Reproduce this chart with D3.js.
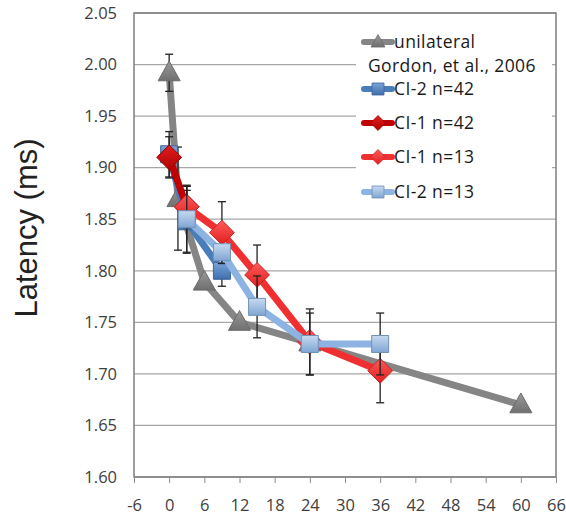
<!DOCTYPE html>
<html>
<head>
<meta charset="utf-8">
<script src="https://cdn.jsdelivr.net/npm/d3@7"></script>
<style>
    body { margin: 0; background: #fff; }
    svg { display: block; }
</style>
</head>
<body>
<div id="chart"></div>
<script>
// months after implant / latency (ms) / error bar half-length
var unilateral_x = [0, 1.5, 6, 12, 24, 60];
var unilateral_y = [1.992, 1.87, 1.789, 1.75, 1.73, 1.67];
var unilateral_err = [0.018, 0.05, 0, 0, 0, 0.003];

var ci2_42_x = [0, 3, 9];
var ci2_42_y = [1.913, 1.848, 1.80];
var ci2_42_err = [0.022, 0.03, 0.015];

var ci1_42_x = [0, 3];
var ci1_42_y = [1.91, 1.862];
var ci1_42_err = [0.02, 0.02];

var ci1_13_x = [3, 9, 15, 24, 36];
var ci1_13_y = [1.862, 1.837, 1.796, 1.731, 1.703];
var ci1_13_err = [0.02, 0.03, 0.029, 0.032, 0.031];

var ci2_13_x = [3, 9, 15, 24, 36];
var ci2_13_y = [1.85, 1.818, 1.765, 1.729, 1.729];
var ci2_13_err = [0.033, 0.0, 0.03, 0.03, 0.03];

var x_ticks = [-6, 0, 6, 12, 18, 24, 30, 36, 42, 48, 54, 60, 66];
var y_ticks = [1.60, 1.65, 1.70, 1.75, 1.80, 1.85, 1.90, 1.95, 2.00, 2.05];

var legend_labels = ["unilateral", "Gordon, et al., 2006", "CI-2 n=42", "CI-1 n=42", "CI-1 n=13", "CI-2 n=13"];

function draw_chart() {
    const W = 566, H = 518;
    const LEFT = 134, RIGHT = 556, TOP = 13, BOTTOM = 477;
    const FONT = "'Open Sans', 'Liberation Sans', sans-serif";

    var x = d3.scaleLinear().domain([-6, 66]).range([LEFT, RIGHT]);
    var y = d3.scaleLinear().domain([1.60, 2.05]).range([BOTTOM, TOP]);

    var svg = d3.select("#chart")
        .append("svg")
            .attr("width", W)
            .attr("height", H);

    var defs = svg.append("defs");
    function gradient(id, c1, c2) {
        var g = defs.append("linearGradient")
            .attr("id", id)
            .attr("x1", 0).attr("y1", 0).attr("x2", 0).attr("y2", 1);
        g.append("stop").attr("offset", "0%").attr("stop-color", c1);
        g.append("stop").attr("offset", "100%").attr("stop-color", c2);
    }
    gradient("g_blue", "#7aa3d8", "#3f6fae");
    gradient("g_lblue", "#c7daf0", "#7fa5d3");
    gradient("g_red", "#ff5a5a", "#e01f1f");
    gradient("g_dred", "#e02020", "#b00000");
    gradient("g_gray", "#9a9a9a", "#6f6f6f");

    // gridlines
    svg.append("g")
        .selectAll("line")
        .data(y_ticks)
        .enter()
        .append("line")
            .attr("x1", LEFT)
            .attr("x2", RIGHT)
            .attr("y1", function (d) { return y(d); })
            .attr("y2", function (d) { return y(d); })
            .attr("stroke", "#a6a6a6")
            .attr("stroke-width", 1.3);

    // frame
    svg.append("rect")
        .attr("x", LEFT)
        .attr("y", TOP)
        .attr("width", RIGHT - LEFT)
        .attr("height", BOTTOM - TOP)
        .attr("fill", "none")
        .attr("stroke", "#7f7f7f")
        .attr("stroke-width", 1.5);

    // x axis ticks + labels
    var x_axis = d3.axisBottom(x)
        .tickValues(x_ticks)
        .tickSize(6)
        .tickPadding(16)
        .tickFormat(function (d) { return String(d); });
    var xa = svg.append("g")
        .attr("transform", "translate(0," + BOTTOM + ")")
        .call(x_axis);
    xa.select(".domain").remove();
    xa.selectAll("line").attr("stroke", "#8c8c8c");
    xa.selectAll("text")
        .attr("font-family", FONT)
        .attr("font-size", 16.5)
        .attr("fill", "#404040");

    var y_axis = d3.axisLeft(y)
        .tickValues(y_ticks)
        .tickSize(0)
        .tickPadding(17)
        .tickFormat(d3.format(".2f"));
    var ya = svg.append("g")
        .attr("transform", "translate(" + LEFT + ",0)")
        .call(y_axis);
    ya.select(".domain").remove();
    ya.selectAll("text")
        .attr("font-family", FONT)
        .attr("font-size", 16.5)
        .attr("fill", "#404040");

    svg.append("text")
        .attr("transform", "translate(37,228) rotate(-90)")
        .attr("text-anchor", "middle")
        .attr("font-family", "'Liberation Sans', Arial, sans-serif")
        .attr("font-size", 31)
        .attr("fill", "#222")
        .text("Latency (ms)");

    // legend background
    svg.append("rect")
        .attr("x", 356)
        .attr("y", 24)
        .attr("width", 196)
        .attr("height", 188)
        .attr("fill", "#fff");

    var series = [
        { xs: unilateral_x, ys: unilateral_y, err: unilateral_err, color: "#858585", fill: "url(#g_gray)", marker: "triangle", width: 7 },
        { xs: ci2_42_x, ys: ci2_42_y, err: ci2_42_err, color: "#4a7ebb", fill: "url(#g_blue)", marker: "square", width: 7 },
        { xs: ci1_42_x, ys: ci1_42_y, err: ci1_42_err, color: "#c00000", fill: "url(#g_dred)", marker: "diamond", width: 7 },
        { xs: ci1_13_x, ys: ci1_13_y, err: ci1_13_err, color: "#f03030", fill: "url(#g_red)", marker: "diamond", width: 7 },
        { xs: ci2_13_x, ys: ci2_13_y, err: ci2_13_err, color: "#8db3e2", fill: "url(#g_lblue)", marker: "square", width: 7 }
    ];

    function marker_path(type, s) {
        if (type === "triangle") return "M0," + (-s * 0.62) + "L" + (s * 0.58) + "," + (s * 0.42) + "L" + (-s * 0.58) + "," + (s * 0.42) + "Z";
        if (type === "square") return "M" + (-s / 2) + "," + (-s / 2) + "h" + s + "v" + s + "h" + (-s) + "Z";
        return "M0," + (-s * 0.62) + "L" + (s * 0.62) + ",0L0," + (s * 0.62) + "L" + (-s * 0.62) + ",0Z";
    }

    var lineFunction = d3.line()
        .x(function (d) { return x(d[0]); })
        .y(function (d) { return y(d[1]); });

    series.forEach(function (s) {
        var pts = s.xs.map(function (v, i) { return [v, s.ys[i], s.err[i]]; });
        var g = svg.append("g");

        g.append("path")
            .attr("d", lineFunction(pts))
            .attr("stroke", s.color)
            .attr("stroke-width", s.width)
            .attr("stroke-linejoin", "round")
            .attr("fill", "none");

        var eb = g.selectAll(".eb")
            .data(pts.filter(function (d) { return d[2] > 0; }))
            .enter()
            .append("g")
            .attr("stroke", "#222")
            .attr("stroke-width", 1.3);
        eb.append("line")
            .attr("x1", function (d) { return x(d[0]); })
            .attr("x2", function (d) { return x(d[0]); })
            .attr("y1", function (d) { return y(d[1] + d[2]); })
            .attr("y2", function (d) { return y(d[1] - d[2]); });
        eb.append("line")
            .attr("x1", function (d) { return x(d[0]) - 4; })
            .attr("x2", function (d) { return x(d[0]) + 4; })
            .attr("y1", function (d) { return y(d[1] + d[2]); })
            .attr("y2", function (d) { return y(d[1] + d[2]); });
        eb.append("line")
            .attr("x1", function (d) { return x(d[0]) - 4; })
            .attr("x2", function (d) { return x(d[0]) + 4; })
            .attr("y1", function (d) { return y(d[1] - d[2]); })
            .attr("y2", function (d) { return y(d[1] - d[2]); });

        var size = s.marker === "square" ? 17 : (s.marker === "diamond" ? 20 : 19);
        g.selectAll(".mk")
            .data(pts)
            .enter()
            .append("path")
            .attr("transform", function (d) { return "translate(" + x(d[0]) + "," + y(d[1]) + ")"; })
            .attr("d", marker_path(s.marker, size))
            .attr("fill", s.fill)
            .attr("stroke", d3.color(s.color).darker(0.6))
            .attr("stroke-width", 1);
    });

    // legend
    var rows = [
        { s: 0, label: legend_labels[0], cy: 42 },
        { s: 1, label: legend_labels[2], cy: 89 },
        { s: 2, label: legend_labels[3], cy: 123 },
        { s: 3, label: legend_labels[4], cy: 157 },
        { s: 4, label: legend_labels[5], cy: 192 }
    ];
    rows.forEach(function (r) {
        var s = series[r.s];
        svg.append("line")
            .attr("x1", 364).attr("x2", 392)
            .attr("y1", r.cy).attr("y2", r.cy)
            .attr("stroke", s.color)
            .attr("stroke-width", 6)
            .attr("stroke-linecap", "round");
        svg.append("path")
            .attr("transform", "translate(378," + r.cy + ")")
            .attr("d", marker_path(s.marker, 12))
            .attr("fill", s.fill)
            .attr("stroke", d3.color(s.color).darker(0.6))
            .attr("stroke-width", 0.8);
        svg.append("text")
            .attr("x", 394)
            .attr("y", r.cy)
            .attr("dy", "0.36em")
            .attr("font-family", FONT)
            .attr("font-size", 17.5)
            .attr("letter-spacing", 0.4)
            .attr("fill", "#1a1a1a")
            .text(r.label);
    });
    svg.append("text")
        .attr("x", 368)
        .attr("y", 66)
        .attr("dy", "0.36em")
        .attr("font-family", FONT)
        .attr("font-size", 17.5)
        .attr("letter-spacing", 0.4)
        .attr("fill", "#1a1a1a")
        .text(legend_labels[1]);
}

draw_chart();
</script>
</body>
</html>
